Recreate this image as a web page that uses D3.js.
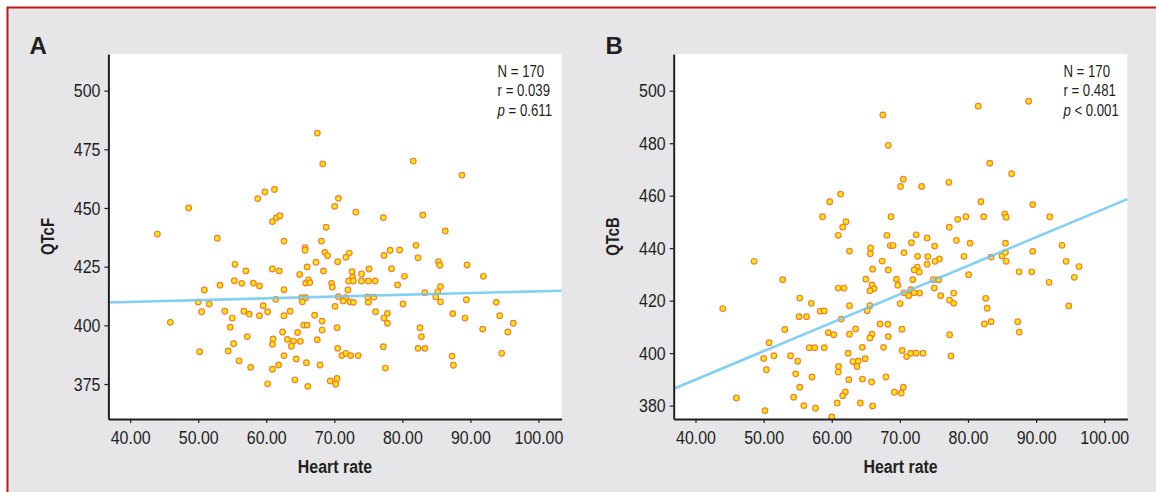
<!DOCTYPE html>
<html>
<head>
<meta charset="utf-8">
<script src="https://cdn.jsdelivr.net/npm/d3@7"></script>
<style>
  body { margin: 0; background: #ffffff; }
  text { font-family: "Liberation Sans", Arial, sans-serif; fill: #231f20; }
</style>
</head>
<body>
<div id="chart"></div>
<script>
let w = 1156,
    h = 492;

// axis ticks
let xTicks = [40, 50, 60, 70, 80, 90, 100];
let yTicksA = [375, 400, 425, 450, 475, 500];
let yTicksB = [380, 400, 420, 440, 460, 480, 500];

let statsA = ["N = 170", "r = 0.039", "p = 0.611"];
let statsB = ["N = 170", "r = 0.481", "p < 0.001"];

// linear fit [intercept, slope]
let fitA = [407.0, 0.075];
let fitB = [346.5, 1.085];

// [heart rate, QTcF]
let qtcfPoints = [
  [48.6,450.0],[58.75,454.0],[59.8,456.8],[61.2,457.9],[67.5,481.9],[68.3,468.8],[70.05,450.7],[70.6,454.1],
  [73.15,448.2],[81.6,470.0],[88.75,464.0],[44.0,438.9],[52.8,437.1],[55.4,426.0],[57.0,423.2],[55.3,419.0],
  [56.4,417.9],[58.1,418.0],[53.2,417.1],[50.9,415.1],[50.0,409.9],[51.6,409.1],[50.5,405.8],[53.9,406.0],
  [55.0,403.1],[56.7,406.0],[57.5,404.8],[45.9,401.3],[54.7,399.2],[57.2,395.2],[55.2,392.2],[50.2,388.8],
  [54.4,389.1],[56.0,384.9],[57.7,382.1],[60.9,444.2],[61.5,445.9],[62.0,446.7],[68.8,441.8],[62.6,435.9],
  [68.1,435.9],[65.7,433.1],[65.7,432.0],[68.6,431.1],[69.0,429.7],[71.7,429.0],[72.2,430.8],[70.5,427.1],
  [60.9,424.0],[61.9,423.2],[66.0,424.9],[64.9,421.7],[67.3,426.9],[68.4,423.2],[65.8,418.0],[66.2,419.4],
  [66.4,418.2],[69.6,417.9],[69.7,416.3],[75.1,424.0],[72.6,422.9],[74.0,421.9],[72.7,420.5],[72.1,418.9],
  [72.8,418.9],[74.0,418.9],[75.0,418.9],[72.0,415.1],[70.6,412.2],[71.7,411.8],[71.3,410.4],[72.3,410.0],
  [72.8,409.8],[74.9,412.1],[75.0,409.8],[70.1,408.1],[70.4,399.0],[70.5,390.2],[71.1,387.1],[71.7,388.1],
  [72.4,387.1],[73.5,387.1],[69.4,376.3],[70.4,377.4],[70.2,374.9],[59.0,416.8],[62.6,415.2],[61.4,411.1],
  [65.2,411.8],[65.8,411.8],[65.3,410.0],[59.55,408.4],[59.0,404.1],[60.2,405.8],[62.6,404.1],[63.5,406.0],
  [67.1,404.3],[68.2,401.8],[68.2,398.0],[65.5,400.1],[66.0,400.1],[62.4,397.2],[64.6,397.0],[61.0,394.2],
  [60.9,391.9],[63.1,394.0],[64.0,393.3],[65.0,393.2],[63.7,391.1],[67.5,393.9],[62.6,387.1],[64.4,385.7],
  [65.9,384.1],[67.9,383.1],[61.8,383.1],[60.9,381.3],[60.2,375.1],[64.2,376.8],[66.1,374.0],[77.2,445.9],
  [83.0,447.0],[86.3,440.2],[82.0,434.1],[78.2,432.0],[79.6,432.1],[77.3,429.8],[82.3,428.8],[85.3,427.1],
  [85.5,425.6],[89.5,425.7],[78.4,424.1],[80.3,420.9],[91.9,420.9],[76.0,418.9],[79.3,417.2],[85.6,416.5],
  [83.3,413.9],[85.2,414.3],[84.9,412.1],[75.8,412.0],[85.6,410.0],[89.4,410.9],[80.1,409.1],[87.4,405.0],
  [89.2,403.1],[76.05,405.8],[77.8,405.1],[77.3,403.1],[77.8,400.9],[82.6,399.0],[91.8,398.4],[82.8,395.2],
  [82.3,390.2],[83.3,390.2],[77.2,390.9],[87.3,386.9],[87.5,383.0],[77.5,381.8],[93.8,409.8],[94.3,404.1],
  [95.5,397.2],[96.3,400.9],[94.6,388.1]
];

// [heart rate, QTcB]
let qtcbPoints = [
  [67.5,490.8],[68.3,479.2],[81.5,494.1],[88.9,496.0],[83.2,472.4],[86.4,468.4],[70.5,466.3],[70.1,463.5],
  [73.2,463.5],[77.2,465.1],[61.3,460.6],[59.7,457.7],[81.9,457.7],[89.5,456.6],
  [58.65,452.0],[48.6,435.0],[52.8,428.0],[55.3,421.0],[57.0,419.0],[44.0,417.0],[55.2,413.9],[56.3,413.9],
  [58.3,416.0],[58.9,416.1],[53.1,409.0],[59.5,407.8],[50.8,404.0],[56.7,402.1],[57.5,402.1],[58.9,402.1],
  [50.0,398.0],[51.5,399.0],[53.95,399.0],[55.0,396.9],[50.4,393.7],[54.7,392.1],[57.1,390.9],[55.3,387.0],
  [46.0,382.9],[54.4,383.2],[55.9,380.0],[57.6,379.0],[50.2,378.1],
  [68.7,452.0],[62.1,450.1],[61.6,448.0],[60.95,444.9],[68.1,444.9],[68.6,441.0],[69.0,441.0],[72.4,445.1],
  [71.7,442.1],[74.0,443.9],[77.25,448.0],[78.5,451.0],[78.3,443.0],[75.1,440.8],[70.6,438.3],[62.6,438.9],
  [65.7,440.1],[65.65,437.9],[72.6,436.9],[74.1,436.8],[75.8,435.9],[75.15,435.0],[67.4,435.1],[66.0,432.0],
  [68.3,431.7],[72.55,432.8],[72.1,431.7],[72.85,430.9],[74.0,433.9],[65.0,428.2],[69.5,428.2],[69.7,425.9],
  [71.9,428.0],[74.9,428.0],[75.7,428.0],[65.9,426.0],[66.2,424.6],[65.6,423.8],[60.95,424.8],[61.8,424.8],
  [70.6,423.0],[71.6,424.2],[71.3,421.9],[72.1,423.0],[72.9,422.9],[75.05,424.8],[76.0,421.9],[77.9,422.9],
  [77.3,420.2],[77.9,419.0],[62.6,418.1],[70.05,418.9],[65.6,418.1],[65.2,416.2],[61.4,413.0],[67.1,411.1],
  [68.25,411.0],[63.5,409.2],[70.3,409.1],[60.3,407.0],[62.6,407.2],[65.9,407.2],[65.6,405.8],[68.3,406.3],
  [77.3,407.0],[64.5,402.2],[67.6,402.2],[62.4,400.0],[64.9,397.9],[63.9,397.0],[63.1,396.8],[63.7,394.9],
  [70.35,401.0],[71.0,398.7],[71.6,400.0],[72.4,400.0],[73.4,400.0],[77.5,398.9],[61.0,394.9],[60.95,392.8],
  [62.5,389.9],[64.5,390.1],[65.85,389.0],[67.95,390.9],[62.0,385.2],[61.6,383.8],[70.5,387.0],[70.2,384.8],
  [69.2,385.1],[60.8,381.0],[64.2,381.0],[66.0,379.9],[60.0,375.7],
  [79.7,452.0],[82.3,452.0],[85.4,453.1],[85.6,451.8],[92.0,452.0],[80.3,441.9],[85.5,441.9],[79.4,436.9],
  [83.4,436.6],[85.0,437.0],[85.5,438.4],[85.6,435.0],[89.5,438.8],[93.8,441.1],[94.4,435.0],[96.3,433.0],
  [80.1,429.9],[87.5,431.0],[89.35,431.0],[91.9,427.0],[95.6,428.9],[82.6,420.9],[82.8,417.1],[82.4,411.1],
  [83.4,412.0],[87.3,412.0],[87.5,408.0],[94.8,418.0]
];

let svg = d3.select("#chart")
            .append("svg")
            .attr("width", w)
            .attr("height", h);

// grey frame with red top/left rule
svg.append("rect")
   .attr("x", 8).attr("y", 8)
   .attr("width", w).attr("height", h)
   .style("fill", "#e6e6e8");

svg.append("path")
   .attr("d", "M7.5," + h + "V7.5H" + w)
   .style("fill", "none")
   .style("stroke", "#c3161c")
   .style("stroke-width", 2);

// no condensed face installed, so squeeze the text horizontally
function narrow(sel, k) {
  sel.each(function() {
    let t = d3.select(this);
    let xv = +t.attr("x") || 0;
    t.attr("x", xv / k)
     .attr("transform", (t.attr("transform") || "") + " scale(" + k + ",1)");
  });
}

function drawPanel(p) {
  let top = 54, bottom = 419;

  let x = d3.scaleLinear()
            .domain([36.8, 103.4])
            .range([p.left, p.right]);

  let y = d3.scaleLinear()
            .domain(p.yDomain)
            .range([bottom, top]);

  let g = svg.append("g");

  g.append("rect")
   .attr("x", p.left).attr("y", top)
   .attr("width", p.right - p.left).attr("height", bottom - top)
   .style("fill", "#ffffff");

  g.selectAll(".dot")
   .data(p.points)
   .enter()
   .append("circle")
   .attr("class", "dot")
   .attr("cx", d => x(d[0]))
   .attr("cy", d => y(d[1]))
   .attr("r", 2.8)
   .style("fill", "#ffec00")
   .style("stroke", "#f47a3c")
   .style("stroke-width", 1.2);

  let xs = x.domain();
  g.append("line")
   .attr("x1", x(xs[0])).attr("y1", y(p.fit[0] + p.fit[1] * xs[0]))
   .attr("x2", x(xs[1])).attr("y2", y(p.fit[0] + p.fit[1] * xs[1]))
   .style("stroke", "#6cc8f0")
   .style("stroke-opacity", 0.85)
   .style("stroke-width", 2.6);

  let yAxis = g.append("g")
               .attr("transform", "translate(" + p.left + ",0)")
               .call(d3.axisLeft(y).tickValues(p.yTicks).tickFormat(d3.format("d"))
                       .tickSize(4).tickSizeOuter(0).tickPadding(4));

  let xAxis = g.append("g")
               .attr("transform", "translate(0," + bottom + ")")
               .call(d3.axisBottom(x).tickValues(xTicks).tickFormat(d3.format(".2f"))
                       .tickSize(4).tickSizeOuter(0).tickPadding(8));

  g.selectAll(".domain").style("stroke", "#231f20").style("stroke-width", 2);
  g.selectAll(".tick line").style("stroke", "#231f20").style("stroke-width", 1.2);
  g.selectAll(".tick text")
   .style("fill", "#231f20")
   .attr("font-family", null)
   .attr("font-size", null)
   .style("font-size", "19px")
   .call(narrow, 0.84);

  g.append("text")
   .attr("x", (p.left + p.right) / 2)
   .attr("y", 472.7)
   .attr("text-anchor", "middle")
   .style("font-size", "18.5px")
   .style("font-weight", "bold")
   .text("Heart rate")
   .call(narrow, 0.86);

  g.append("text")
   .attr("transform", "translate(" + (p.left - 54.4) + "," + ((top + bottom) / 2) + ") rotate(-90)")
   .attr("text-anchor", "middle")
   .style("font-size", "18px")
   .style("font-weight", "bold")
   .text(p.yLabel)
   .call(narrow, 0.83);

  g.append("text")
   .attr("x", p.letterX)
   .attr("y", 54)
   .style("font-size", "24px")
   .style("font-weight", "bold")
   .text(p.letter);

  p.stats.forEach((s, i) => {
    let t = g.append("text")
             .attr("x", p.right - 64)
             .attr("y", 77 + i * 19.5)
             .style("font-size", "16.5px");
    if (s[0] == "p") {
      t.append("tspan").style("font-style", "italic").text("p");
      t.append("tspan").text(s.slice(1));
    } else {
      t.text(s);
    }
    t.call(narrow, 0.8);
  });
}

drawPanel({
  left: 108.4, right: 561.6,
  yDomain: [360.1, 515.6],
  yTicks: yTicksA,
  points: qtcfPoints,
  fit: fitA,
  yLabel: "QTcF",
  letter: "A", letterX: 29.5,
  stats: statsA
});

drawPanel({
  left: 673.7, right: 1127.4,
  yDomain: [374.9, 514.0],
  yTicks: yTicksB,
  points: qtcbPoints,
  fit: fitB,
  yLabel: "QTcB",
  letter: "B", letterX: 605.5,
  stats: statsB
});
</script>
</body>
</html>
